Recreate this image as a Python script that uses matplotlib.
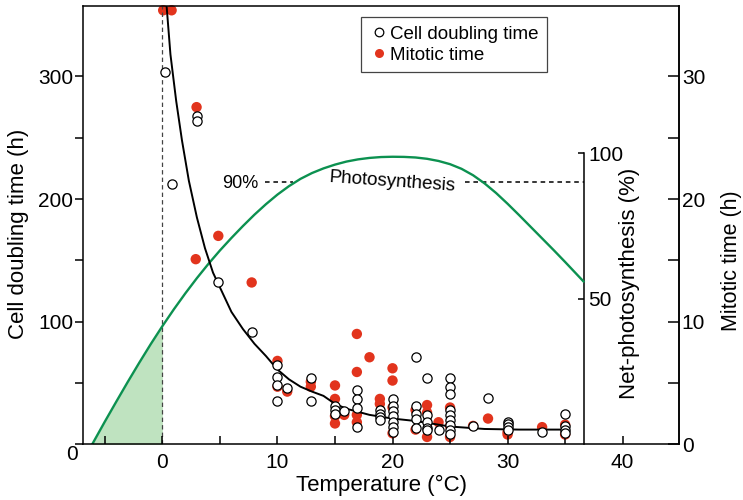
import matplotlib
matplotlib.use("Agg")
import matplotlib.pyplot as plt
from matplotlib.lines import Line2D

plt.rcParams['font.family'] = ['Liberation Sans', 'DejaVu Sans']

# ---- data ----
# Cell doubling time (h), open circles
dbl_temp = [0.2, 0.85, 2.97, 2.97, 4.85, 7.75,
            10, 10, 10, 10, 10.85, 12.9, 12.9,
            15, 15, 15, 15.8, 16.9, 16.9, 16.9, 16.9,
            18.9, 18.9, 18.9, 18.9,
            20, 20, 20, 20, 20, 20, 20,
            22, 22, 22, 22, 22,
            23, 23, 23, 23, 23, 24,
            25, 25, 25, 25, 25, 25, 25, 25, 25,
            27, 28.3, 30, 30, 30, 30, 33, 35, 35, 35, 35]
dbl_time = [304, 212, 268, 264, 132, 92,
            65, 55, 48, 35, 46, 54, 35,
            31, 28, 25, 27, 44, 37, 30, 14,
            28, 25, 22, 20,
            37, 31, 27, 23, 18, 14, 10,
            71, 31, 25, 21, 13,
            54, 24, 18, 13.5, 11.5, 12,
            54, 47, 41, 28, 24, 20, 16, 12, 8.4,
            15, 38, 18.4, 16.3, 14.4, 12, 10.3, 25, 15, 12, 9]

# Mitotic time (h), red dots (right axis)
mit_temp = [0.07, 0.8, 2.97, 2.9, 4.86, 7.76,
            10, 10, 10.85, 12.9, 12.9,
            15, 15, 15, 15, 15.8,
            16.9, 16.9, 16.9, 16.9, 18,
            18.9, 18.9, 20, 20, 20, 20,
            22, 22, 23, 23, 23, 24, 25, 25, 25,
            27, 28.3, 30, 30, 33, 35, 35]
mit_time = [35.4, 35.4, 27.5, 15.1, 17.0, 13.2,
            6.8, 4.7, 4.3, 4.7, 5.1,
            4.8, 3.7, 2.3, 1.7, 2.4,
            9.0, 5.9, 2.4, 1.8, 7.1,
            3.7, 3.3, 6.2, 5.2, 3.0, 0.9,
            2.8, 1.2, 3.2, 2.6, 0.6, 1.8, 3.0, 1.5, 0.6,
            1.5, 2.1, 1.0, 0.8, 1.4, 1.6, 0.8]

# Fitted doubling-time curve
fit_temp = [0.3, 0.37, 0.7, 1.2, 1.7, 2.3, 3.0, 3.7, 4.4, 5.0, 6.0, 7.0, 8.0, 9.0,
            10.0, 11.0, 12.0, 13.0, 14.0, 15.0, 16.0, 18.0, 20.0, 22.0, 25.0,
            28.0, 31.0, 35.0]
fit_time = [366, 357, 318, 280, 248, 215, 185, 160, 140, 128, 108, 94, 82, 72,
            61, 53, 47, 43, 39.5, 33, 29, 24, 21, 19, 14.5, 12.5, 12, 12]

# Net photosynthesis (%)
ps_temp = [-6.1, -5, -4, -3, -2, -1, 0, 1, 2, 3, 4, 5, 6, 7, 8, 9, 10, 11, 12,
           13, 14, 15, 16, 17, 18, 19, 20, 21, 22, 23, 24, 25, 26, 27, 28, 29,
           30, 31, 32, 33, 34, 35, 36.6]
ps_val = [0, 7.8, 14.7, 21.5, 28.1, 34.5, 40.6, 46.4, 51.9, 57.1, 62.0, 66.6,
          70.9, 75.0, 78.9, 82.5, 85.8, 88.7, 91.2, 93.2, 94.8, 96.1, 97.15,
          97.9, 98.4, 98.7, 98.8, 98.75, 98.55, 98.1, 97.35, 96.25, 94.65,
          92.45, 89.65, 86.35, 82.65, 78.75, 74.75, 70.75, 66.75, 62.65, 55.95]

x_ticks = [0, 10, 20, 30, 40]
y_ticks = [0, 100, 200, 300]
mit_ticks = [0, 10, 20, 30]
ps_ticks = [50, 100]

GREEN = '#0c9150'
FILL = '#bfe3c0'
RED = '#e2341d'

fig = plt.figure(figsize=(7.43, 5.0), dpi=100)
ax = fig.add_axes([0.1117, 0.1114, 0.8022, 0.8766])
ax2 = ax.twinx()
ax3 = ax.twinx()

# layer order: red (ax2) bottom, photosynthesis (ax3), main (ax) top
ax2.set_zorder(1)
ax3.set_zorder(2)
ax.set_zorder(3)
ax.patch.set_visible(False)

XMIN, XMAX = -6.9, 44.9
ax.set_xlim(XMIN, XMAX)
ax.set_ylim(0, 357.5)
ax2.set_ylim(0, 35.75)
ax3.set_ylim(0, 150.6)

# photosynthesis
ax3.plot(ps_temp, ps_val, color=GREEN, lw=1.7, zorder=3)
fill_x = [t for t in ps_temp if t <= 0]
fill_y = [v for t, v in zip(ps_temp, ps_val) if t <= 0]
ax3.fill_between(fill_x, 0, fill_y, color=FILL, lw=0, zorder=1)
ax3.axvline(0, color='#444444', lw=0.9, ls=(0, (3.5, 2.5)), zorder=2)
ax3.plot([8.9, 11.35], [90, 90], color='black', lw=1.1, ls=(0, (3, 2.5)))
ax3.plot([26.3, 36.65], [90, 90], color='black', lw=1.1, ls=(0, (3, 2.5)))
ax3.text(6.74, 89.6, '90%', fontsize=13, ha='center', va='center')
ax3.text(20.0, 90.3, 'Photosynthesis', fontsize=13.5, ha='center', va='center',
         rotation=-4)

# mitotic time (red)
ax2.scatter(mit_temp, mit_time, s=56, color=RED, edgecolors='none', zorder=3,
            clip_on=False)

# doubling time
ax.plot(fit_temp, fit_time, color='black', lw=1.4, zorder=2)
ax.scatter(dbl_temp, dbl_time, s=44, facecolors='white', edgecolors='black',
           linewidths=0.9, zorder=3)

# ---- axes styling ----
ax.set_xticks(x_ticks)
ax.set_xticks([-5, 5, 15, 25, 35], minor=True)
ax.set_yticks(y_ticks)
ax.set_yticklabels([''] + [str(v) for v in y_ticks[1:]])
ax.set_yticks([50, 150, 250], minor=True)
ax.tick_params(axis='x', which='both', direction='in', length=6, width=1.1,
               labelsize=15, pad=6)
ax.tick_params(axis='y', which='both', direction='out', length=5.5, width=1.1,
               labelsize=15, pad=1.5)
ax.annotate('0', xy=(0, 0), xycoords='axes fraction', xytext=(-4, -7),
            textcoords='offset points', ha='right', va='center', fontsize=15)
for s in ['left', 'bottom', 'top', 'right']:
    ax.spines[s].set_linewidth(1.1)
ax.set_xlabel('Temperature (°C)', fontsize=16, labelpad=2)
ax.set_ylabel('Cell doubling time (h)', fontsize=16)
ax.yaxis.set_label_coords(-0.090, 0.48)

ax2.set_yticks(mit_ticks)
ax2.set_yticks([5, 15, 25], minor=True)
ax2.tick_params(axis='y', which='both', direction='in', length=8, width=1.1,
                labelsize=15, pad=2)
for s in ['left', 'bottom', 'top']:
    ax2.spines[s].set_visible(False)
ax2.spines['right'].set_linewidth(1.1)
ax2.set_ylabel('Mitotic time (h)', fontsize=15.5)
ax2.yaxis.set_label_coords(1.071, 0.42)

for s in ['left', 'bottom', 'top']:
    ax3.spines[s].set_visible(False)
ax3.spines['right'].set_position(('data', 36.65))
ax3.spines['right'].set_bounds(0, 100)
ax3.spines['right'].set_linewidth(1.1)
ax3.set_yticks(ps_ticks)
ax3.tick_params(axis='y', which='both', direction='in', length=4, width=1.1,
                labelsize=15, pad=3)
ax3.set_ylabel('Net-photosynthesis (%)', fontsize=16)
ax3.yaxis.set_label_coords(0.899, 0.367)

handles = [Line2D([], [], ls='none', marker='o', markersize=6.2,
                  markerfacecolor='white', markeredgecolor='black',
                  markeredgewidth=0.9),
           Line2D([], [], ls='none', marker='o', markersize=6.5,
                  markerfacecolor=RED, markeredgecolor='none')]
leg = ax.legend(handles, ['Cell doubling time', 'Mitotic time'],
                loc='upper left', bbox_to_anchor=(0.466, 0.975),
                borderaxespad=0, fontsize=13.5, frameon=True, fancybox=False,
                framealpha=1, edgecolor='#444444', handlelength=1.0,
                handletextpad=0.1, borderpad=0.45, labelspacing=0.22)
leg.get_frame().set_linewidth(0.9)
leg.set_zorder(10)

fig.savefig('out.png', dpi=100)
